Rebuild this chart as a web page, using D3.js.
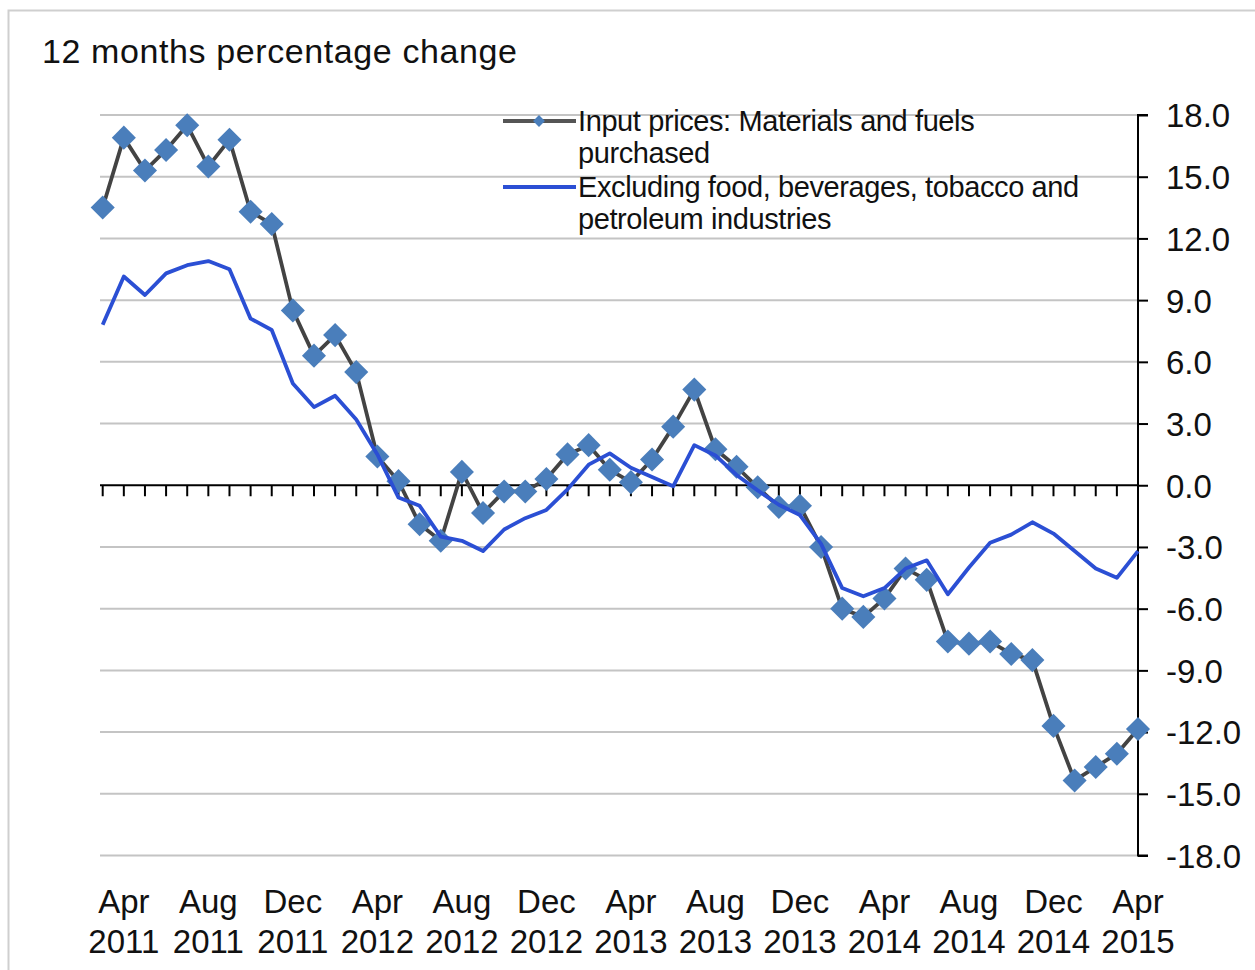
<!DOCTYPE html>
<html>
<head>
<meta charset="utf-8">
<script src="https://cdn.jsdelivr.net/npm/d3@7"></script>
<style>
  body { margin: 0; background: #fff; }
  svg { display: block; font-family: "Liberation Sans", Arial, sans-serif; }
</style>
</head>
<body>
<svg id="chart" width="1255" height="970"></svg>
<script>
// months shown on the x axis (Mar 2011 - Apr 2015)
var months = [
  "Mar 2011","Apr 2011","May 2011","Jun 2011","Jul 2011","Aug 2011","Sep 2011","Oct 2011","Nov 2011","Dec 2011",
  "Jan 2012","Feb 2012","Mar 2012","Apr 2012","May 2012","Jun 2012","Jul 2012","Aug 2012","Sep 2012","Oct 2012",
  "Nov 2012","Dec 2012","Jan 2013","Feb 2013","Mar 2013","Apr 2013","May 2013","Jun 2013","Jul 2013","Aug 2013",
  "Sep 2013","Oct 2013","Nov 2013","Dec 2013","Jan 2014","Feb 2014","Mar 2014","Apr 2014","May 2014","Jun 2014",
  "Jul 2014","Aug 2014","Sep 2014","Oct 2014","Nov 2014","Dec 2014","Jan 2015","Feb 2015","Mar 2015","Apr 2015"
];

// Input prices: materials and fuels purchased
var inputPrices = [
  13.5, 16.9, 15.3, 16.3, 17.5, 15.5, 16.8, 13.3, 12.7, 8.5,
  6.3, 7.3, 5.5, 1.4, 0.2, -1.9, -2.7, 0.65, -1.35, -0.3,
  -0.3, 0.3, 1.5, 1.95, 0.75, 0.15, 1.25, 2.85, 4.65, 1.75,
  0.9, -0.1, -1.05, -1.0, -3.0, -6.0, -6.4, -5.5, -4.05, -4.6,
  -7.6, -7.7, -7.6, -8.2, -8.5, -11.7, -14.35, -13.7, -13.05, -11.85
];

// Excluding food, beverages, tobacco and petroleum industries
var excluding = [
  7.8, 10.15, 9.25, 10.3, 10.7, 10.9, 10.5, 8.1, 7.55, 4.95,
  3.8, 4.35, 3.2, 1.5, -0.6, -1.0, -2.5, -2.7, -3.2, -2.15,
  -1.6, -1.2, -0.2, 1.0, 1.55, 0.85, 0.4, -0.05, 1.95, 1.45,
  0.5, -0.25, -0.95, -1.45, -2.85, -5.0, -5.4, -5.0, -4.05, -3.65,
  -5.3, -4.0, -2.8, -2.4, -1.8, -2.35, -3.2, -4.05, -4.5, -3.2
];

var yTicks = [18, 15, 12, 9, 6, 3, 0, -3, -6, -9, -12, -15, -18];

var legendItems = [
  { lines: ["Input prices: Materials and fuels", "purchased"], marker: true },
  { lines: ["Excluding food, beverages, tobacco and", "petroleum industries"], marker: false }
];

var svg = d3.select("#chart");

var x = d3.scaleLinear().domain([0, months.length - 1]).range([102.7, 1138]);
var y = d3.scaleLinear().domain([-18, 18]).range([855.5, 115]);

// plain hyphen for negatives, like the original
var fmt = d3.formatLocale({ decimal: ".", thousands: ",", grouping: [3], currency: ["", ""], minus: "-" }).format(".1f");

// outer frame
svg.append("path")
  .attr("d", "M8.5,975 V10.5 H1260")
  .attr("fill", "none")
  .attr("stroke", "#cfcfcf")
  .attr("stroke-width", 2);

// title
svg.append("text")
  .attr("x", 42)
  .attr("y", 63)
  .attr("font-size", 34)
  .attr("letter-spacing", 0.6)
  .attr("fill", "#111")
  .text("12 months percentage change");

// gridlines
svg.append("g")
  .selectAll("line")
  .data(yTicks.filter(d => d !== 0))
  .join("line")
  .attr("x1", 100)
  .attr("x2", 1138)
  .attr("y1", d => y(d))
  .attr("y2", d => y(d))
  .attr("stroke", "#c4c4c4")
  .attr("stroke-width", 2);

// right value axis
var yAxis = d3.axisRight(y)
  .tickValues(yTicks)
  .tickSize(10)
  .tickPadding(18)
  .tickFormat(fmt);

var gy = svg.append("g")
  .attr("transform", "translate(1138,0)")
  .call(yAxis);
gy.select(".domain").attr("stroke", "#000").attr("stroke-width", 2)
  .attr("d", "M10," + y(18) + "H0V" + y(-18) + "H10");
gy.selectAll(".tick line").attr("stroke", "#000").attr("stroke-width", 2);
gy.selectAll(".tick text")
  .attr("font-size", 33)
  .attr("font-family", "Liberation Sans, Arial, sans-serif")
  .attr("fill", "#111")
  .attr("dy", "0.36em");

// category axis on the zero line
var gx = svg.append("g")
  .attr("transform", "translate(0," + y(0) + ")");
gx.append("line")
  .attr("x1", 100)
  .attr("x2", 1138)
  .attr("stroke", "#000")
  .attr("stroke-width", 2);
gx.selectAll(".tk")
  .data(d3.range(months.length - 1))
  .join("line")
  .attr("class", "tk")
  .attr("x1", d => x(d))
  .attr("x2", d => x(d))
  .attr("y1", 0)
  .attr("y2", 11)
  .attr("stroke", "#000")
  .attr("stroke-width", 2);

// month labels under the plot
var labels = svg.append("g")
  .selectAll("text")
  .data(months.map((m, i) => ({ m: m, i: i })).filter(d => d.i % 4 === 1))
  .join("text")
  .attr("text-anchor", "middle")
  .attr("font-size", 33)
  .attr("fill", "#111");
labels.append("tspan")
  .attr("x", d => x(d.i))
  .attr("y", 913)
  .text(d => d.m.split(" ")[0]);
labels.append("tspan")
  .attr("x", d => x(d.i))
  .attr("y", 953)
  .text(d => d.m.split(" ")[1]);

// series
var line = d3.line()
  .x((d, i) => x(i))
  .y(d => y(d));

svg.append("path")
  .datum(inputPrices)
  .attr("d", line)
  .attr("fill", "none")
  .attr("stroke", "#434343")
  .attr("stroke-width", 3.8)
  .attr("stroke-linejoin", "round");

var diamond = d3.symbol().type(d3.symbolSquare).size(290);

svg.append("g")
  .selectAll("path")
  .data(inputPrices)
  .join("path")
  .attr("d", diamond)
  .attr("transform", (d, i) => "translate(" + x(i) + "," + y(d) + ") rotate(45)")
  .attr("fill", "#4a7ebb");

svg.append("path")
  .datum(excluding)
  .attr("d", line)
  .attr("fill", "none")
  .attr("stroke", "#2b4fd4")
  .attr("stroke-width", 3.8)
  .attr("stroke-linejoin", "round");

// legend
var legend = svg.append("g");
var lg = legend.selectAll("g")
  .data(legendItems)
  .join("g")
  .attr("transform", (d, i) => "translate(0," + (i * 66) + ")");

lg.append("line")
  .attr("x1", 503)
  .attr("x2", 576)
  .attr("y1", 121)
  .attr("y2", 121)
  .attr("stroke", d => d.marker ? "#555" : "#2b4fd4")
  .attr("stroke-width", 3.8);

lg.filter(d => d.marker).append("path")
  .attr("d", d3.symbol().type(d3.symbolSquare).size(70))
  .attr("transform", "translate(539,121) rotate(45)")
  .attr("fill", "#4a7ebb");

lg.each(function(d) {
  var t = d3.select(this).append("text")
    .attr("font-size", 29)
    .attr("letter-spacing", -0.4)
    .attr("fill", "#111");
  d.lines.forEach(function(s, k) {
    t.append("tspan").attr("x", 578).attr("y", 131 + k * 32).text(s);
  });
});
</script>
</body>
</html>
